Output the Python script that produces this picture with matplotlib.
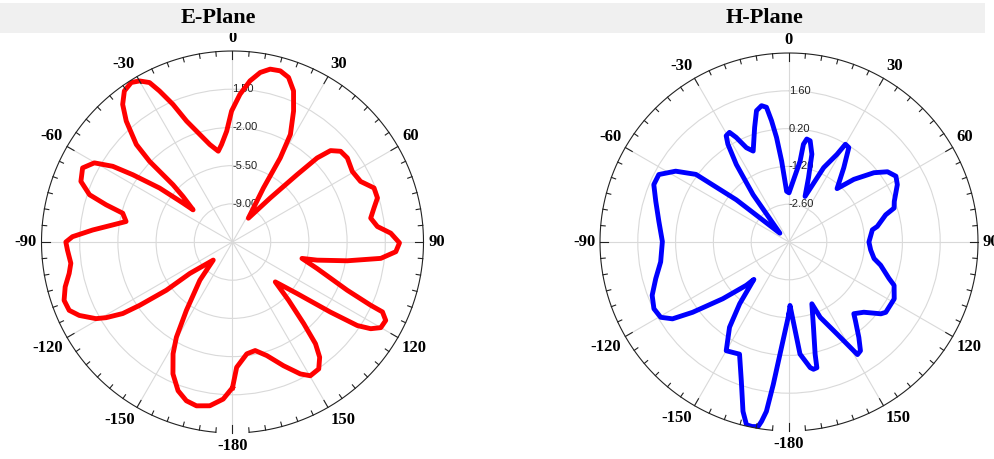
import numpy as np
import matplotlib
matplotlib.use("Agg")
from matplotlib import pyplot as plt
from matplotlib.patches import Rectangle

# E-plane pattern, angle (deg, clockwise from top) and level
e_angle = [-180, -176.6, -172.1, -167.6, -163.8, -159.9, -155.7, -152, -149.5, -146,
           -139.5, -133.2, -126.4, -126.1, -124.3, -123.1, -120.9, -119.3, -115.6, -112.7,
           -109.1, -105, -100.9, -97.5, -92.8, -90, -88.1, -85.1, -81.9, -79.1,
           -75.3, -73.6, -71.7, -68.2, -63.7, -60.2, -57.7, -56, -53.5, -51.8,
           -50.8, -47.4, -46.1, -45.8, -44.6, -41.3, -38.6, -35.6, -32.4, -30,
           -27.5, -25.8, -23.4, -20.8, -16.9, -13.1, -8.9, -6.4, -3, -0.4,
           2.9, 6.2, 9.3, 12.3, 15.6, 18.8, 22, 25, 28.3, 29.6,
           29.8, 33.7, 40.6, 43.8, 45.2, 47, 50, 53.8, 59.5, 64.7,
           69.1, 73.1, 76.5, 80.2, 83.9, 86.8, 90.3, 93.4, 96.3, 99.3,
           102.1, 103.3, 107.4, 112.8, 114.6, 115, 117.1, 120, 122.1, 123.8,
           125.6, 128.6, 133, 136.1, 138.9, 140.8, 142.9, 145.8, 149.8, 152.8,
           157.6, 163.2, 168.2, 172.7, 178.1, 180]
e_level = [0.85, 1.92, 2.65, 2.87, 2.65, 2.01, 0.76, -0.9, -2.37, -4.95,
           -7.9, -10.08, -7.64, -5.0, -2.2, -0.5, 1.0, 1.85, 3.07, 3.72,
           3.83, 3.37, 2.74, 2.44, 2.64, 2.77, 2.17, 0.36, -1.41, -2.57,
           -2.1, -0.43, 1.3, 2.46, 2.82, 2.09, 0.48, -1.48, -4.19, -6.74,
           -7.84, -6.34, -4.93, -1.9, 0.05, 2.25, 3.63, 4.52, 4.81, 4.54,
           3.97, 2.87, 1.24, -0.65, -2.2, -3.33, -4.08, -3.51, -2.33, -0.5,
           1.05, 2.35, 3.24, 3.71, 3.78, 3.43, 2.43, 0.74, -1.31, -3.64,
           -6.8, -9.88, -7.2, -3.95, -1.57, -0.22, 0.43, 0.54, 0.24, 0.48,
           1.38, 1.38, 0.83, 0.35, 0.85, 2.02, 2.8, 2.49, 1.17, -1.85,
           -4.57, -5.96, -4.38, -1.1, 1.42, 2.66, 3.27, 3.19, 2.45, 1.26,
           -1.47, -4.93, -7.14, -5.09, -2.57, -0.47, 0.74, 1.56, 1.68, 1.09,
           -0.24, -1.63, -2.34, -2.17, -1.01, 0.85]

# H-plane pattern
h_angle = [-180, -175.4, -173.7, -172.4, -171.3, -170.5, -168.7, -166.9, -164.8, -161.1,
           -156.2, -153, -150, -145.1, -141.4, -136.8, -135.4, -130.6, -126.1, -123.4,
           -120.4, -116.3, -111.3, -105.4, -98.8, -89.8, -81, -73, -67, -62.6,
           -58, -54, -51.3, -46, -37.2, -34.2, -32, -30.6, -28.5, -26.8,
           -24.3, -21.5, -16.7, -13.9, -11.4, -9.5, -8.2, -6.8, -5.2, -2.7,
           0, 7.8, 8.4, 9.8, 11.8, 14.6, 16.9, 19.4, 25, 28.7,
           30, 32.35, 36.4, 42, 46, 50.8, 54.5, 58.4, 62.1, 68.9,
           72.1, 74.3, 80, 81.7, 90, 95.6, 101, 104.2, 110, 112.4,
           118.4, 126, 128, 133.2, 137.9, 139.8, 143.8, 146.7, 148.7, 152.4,
           157.5, 159.7, 164, 166.9, 167.5, 169.1, 170.4, 174.4, 179.1, 180]
h_level = [-1.35, 0.17, 1.31, 2.33, 2.72, 2.93, 2.97, 2.95, 2.5, 1.45,
           0.54, 0.59, 0.65, -0.15, -1.07, -2.1, -1.75, -0.77, 0.42, 1.17,
           1.51, 1.58, 1.44, 1.12, 0.81, 0.69, 0.88, 1.16, 1.44, 1.43,
           0.95, 0.26, -1.5, -3.53, -1.8, -0.53, 0.27, 0.57, 0.62, 0.34,
           -0.17, -0.38, 0.43, 1.01, 1.15, 1.06, 0.54, -0.1, -0.99, -2.12,
           -2.18, -0.98, -0.34, -0.13, -0.17, -0.64, -1.52, -2.21, -0.96, -0.3,
           0.18, 0.14, -0.58, -1.34, -0.66, 0.06, 0.48, 0.65, 0.54, 0.18,
           0.09, -0.28, -0.68, -0.88, -1.04, -0.96, -0.79, -0.5, -0.06, 0.21,
           0.43, 0.43, 0.32, -0.2, -0.42, -0.19, 0.38, 0.82, 0.88, -0.15,
           -0.98, -1.56, -0.71, 0.27, 0.77, 0.8, 0.72, 0.17, -1.65, -1.35]

e_rticks = [-9.0, -5.5, -2.0, 1.5]
h_rticks = [-2.6, -1.2, 0.2, 1.6]
theta_labels = ['0', '30', '60', '90', '120', '150', '-180', '-150', '-120', '-90', '-60', '-30']


def style_polar(ax, rmin, rmax, rticks, radius_px):
    ax.set_theta_zero_location('N')
    ax.set_theta_direction(-1)
    ax.set_ylim(rmin, rmax)
    ax.set_yticks(rticks)
    ax.set_yticklabels([])
    ax.tick_params(axis='y', length=0)
    ax.set_xticks(np.deg2rad(np.arange(0, 360, 30)))
    ax.set_xticklabels([])
    ax.tick_params(axis='x', length=0)
    ax.grid(True, color='#d9d9d9', lw=0.8)
    ax.spines['polar'].set_visible(False)

    # outer ring with the little gap at the bottom
    arc = np.deg2rad(np.linspace(-175, 175, 400))
    ax.plot(arc, np.full_like(arc, rmax), color='#222222', lw=0.8, clip_on=False, zorder=4)
    span = rmax - rmin
    for deg in range(0, 360, 5):
        tick_len = 8 if deg % 30 == 0 else 4.5
        a = np.deg2rad(deg)
        ax.plot([a, a], [rmax - span * tick_len / radius_px, rmax], color='#222222',
                lw=0.8, clip_on=False, zorder=4)

    for r in rticks:
        ax.text(0, r, '%.2f' % r, ha='left', va='center', fontsize=8,
                family='Liberation Sans', color='#222222', zorder=2.6)

    r_lab = rmin + 1.025 * span
    for i, lab in enumerate(theta_labels):
        a = np.deg2rad(30 * i)
        s, c = np.sin(a), np.cos(a)
        ha = 'left' if s > 0.1 else ('right' if s < -0.1 else 'center')
        va = 'bottom' if c > 0.1 else ('top' if c < -0.1 else 'center')
        ax.text(a, r_lab, lab, ha=ha, va=va, fontsize=12, fontweight='bold',
                family='Liberation Serif', color='black', clip_on=False)


fig = plt.figure(figsize=(9.95, 4.59), dpi=100)
fig.patches.append(Rectangle((0, 1 - 33 / 459), 0.99, 30 / 459, transform=fig.transFigure,
                             facecolor='#f0f0f0', edgecolor='none', zorder=0))
fig.text(218 / 995, 1 - 18 / 459, 'E-Plane', ha='center', va='center', fontsize=16,
         fontweight='bold', family='Liberation Serif')
fig.text(765 / 995, 1 - 18 / 459, 'H-Plane', ha='center', va='center', fontsize=16,
         fontweight='bold', family='Liberation Serif')

ax1 = fig.add_axes([41.5 / 995, 26 / 459, 382 / 995, 382 / 459], projection='polar')
style_polar(ax1, -12.5, 5.0, e_rticks, 191)
ax1.plot(np.deg2rad(e_angle), e_level, color='#ff0000', lw=3.5, solid_joinstyle='round', zorder=3)

ax2 = fig.add_axes([600 / 995, 28 / 459, 378 / 995, 378 / 459], projection='polar')
style_polar(ax2, -4.0, 3.0, h_rticks, 189)
ax2.plot(np.deg2rad(h_angle), h_level, color='#0000ff', lw=3.5, solid_joinstyle='round', zorder=3)

fig.savefig('out.png', dpi=100)
